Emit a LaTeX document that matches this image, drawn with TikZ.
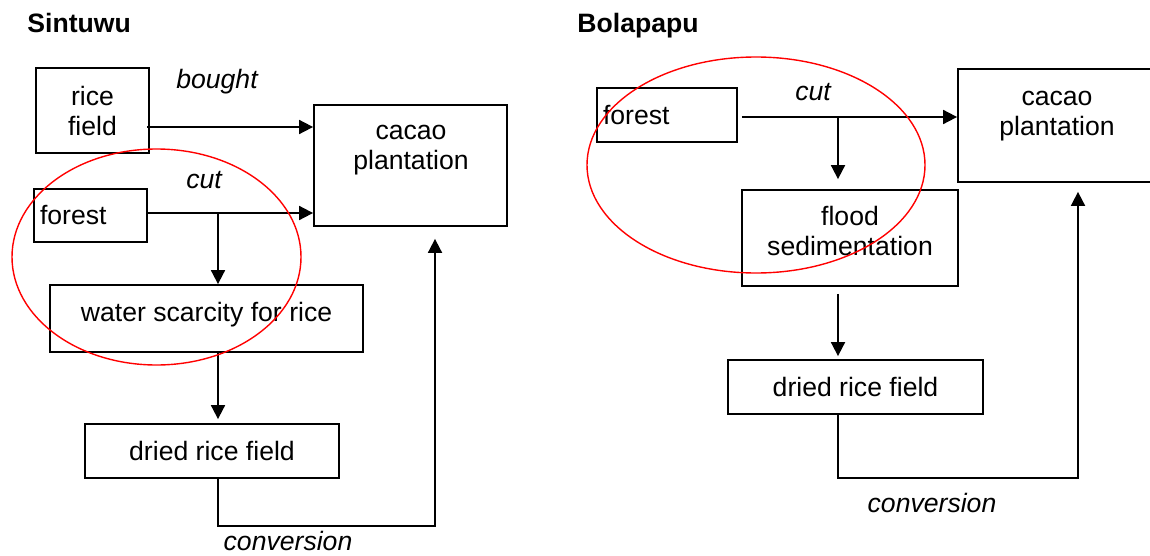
\documentclass[tikz,border=0pt]{standalone}
\usepackage{fontspec}
\setmainfont{Liberation Sans}
\usetikzlibrary{arrows.meta}
\newcommand{\figfont}{\fontsize{13.3}{15}\selectfont}
\tikzset{box/.style={draw, line width=0.9pt, inner xsep=3pt, inner ysep=0pt, align=center, font=\figfont},
    plain/.style={inner sep=0pt, align=center, font=\figfont},
    tag/.style={inner sep=0pt, font=\figfont\itshape},
    title/.style={inner sep=0pt, anchor=base west, font=\figfont\bfseries},
    flow/.style={draw, line width=0.9pt, -{Triangle[length=7pt,width=7pt]}},
    ring/.style={draw=red, line width=0.7pt}}

\begin{document}
\begin{tikzpicture}[x=0.5pt, y=-0.5pt]
\useasboundingbox (0,0) rectangle (1150,556);
% Sintuwu
\node[title] (sintuwu) at (27,33) {Sintuwu};
\node[box, minimum width=56.5pt, minimum height=42.5pt] (riceL) at (92.5,110.5) {rice\\field};
\node[box, text width=50.5pt, align=left, minimum height=26.5pt] (forestL) at (90.5,215.5) {forest};
\node[box, minimum width=96.5pt, minimum height=60.5pt] (cacaoL) at (410.5,165.5) {};
\node[plain] (cacaoLtext) at (411,150) {cacao\\plantation};
\node[box, minimum width=156.5pt, minimum height=33.5pt, text depth=6.3pt] (waterL) at (206.5,318.5) {water scarcity for rice};
\node[box, minimum width=127pt, minimum height=27pt] (driedL) at (212,451) {dried rice field};
\node[tag] (boughttag) at (217,82) {bought};
\node[tag] (cuttagL) at (204,180) {cut};
\node[tag] (convtagL) at (288,541) {conversion};
\coordinate (riceout) at (147,127);
\coordinate (splitL) at (218,213);
\coordinate (turnL) at (435,526);
\draw[flow] (riceout) -- (riceout -| cacaoL.west);
\draw[flow] (forestL.east |- splitL) -- (splitL -| cacaoL.west);
\draw[flow] (splitL) -- (splitL |- waterL.north);
\draw[flow, shorten >=2pt] (splitL |- waterL.south) -- (splitL |- driedL.north);
\draw[flow, shorten >=6pt] (splitL |- driedL.south) |- (turnL) -- (turnL |- cacaoL.south);
% Bolapapu
\node[title] (bolapapu) at (577,33) {Bolapapu};
\node[box, text width=64pt, align=left, minimum height=27pt] (forestR) at (667,115) {forest};
\node[box, minimum width=98pt, minimum height=56.5pt] (cacaoR) at (1056,125.5) {};
\node[plain] (cacaoRtext) at (1057,116) {cacao\\plantation};
\node[box, minimum width=108pt, minimum height=48pt] (floodR) at (850,238) {};
\node[plain] (floodRtext) at (850,230.5) {flood\\sedimentation};
\node[box, minimum width=127.5pt, minimum height=27pt] (driedR) at (855.5,387) {dried rice field};
\node[tag] (cuttagR) at (813,92) {cut};
\node[tag] (convtagR) at (932,503) {conversion};
\coordinate (splitR) at (838,117);
\coordinate (turnR) at (1078,478);
\draw[flow, shorten <=2pt] (forestR.east |- splitR) -- (splitR -| cacaoR.west);
\draw[flow, shorten >=5pt] (splitR) -- (splitR |- floodR.north);
\draw[flow, shorten <=3.5pt, shorten >=1.5pt] (splitR |- floodR.south) -- (splitR |- driedR.north);
\draw[flow, shorten >=4.5pt] (splitR |- driedR.south) |- (turnR) -- (turnR |- cacaoR.south);
% circled areas
\draw[ring] (156.5,257) ellipse [x radius=72.25pt, y radius=54pt];
\draw[ring] (756,165) ellipse [x radius=84.5pt, y radius=54pt];
\end{tikzpicture}
\end{document}
